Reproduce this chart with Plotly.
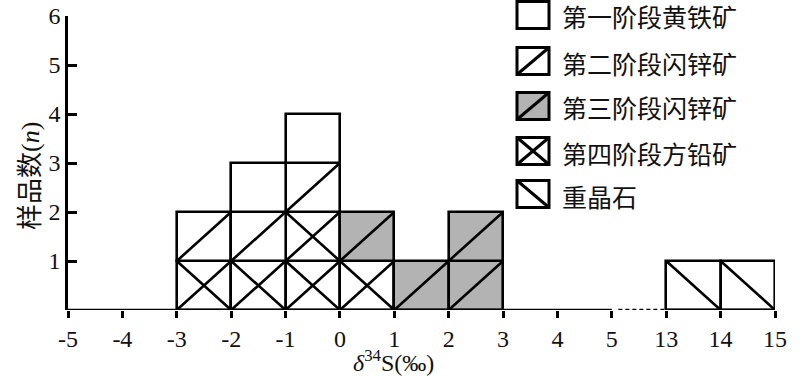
import plotly.graph_objects as go

# ---------------- data ----------------
bin_left = [-3, -2, -1, 0, 1, 2, 13, 14]          # δ34S bin left edges (‰)
stage1_pyrite = [0, 1, 1, 0, 0, 0, 0, 0]          # 第一阶段黄铁矿
stage2_sphalerite = [1, 1, 1, 0, 0, 0, 0, 0]      # 第二阶段闪锌矿
stage3_sphalerite = [0, 0, 0, 1, 1, 2, 0, 0]      # 第三阶段闪锌矿
stage4_galena = [1, 1, 2, 1, 0, 0, 0, 0]          # 第四阶段方铅矿
barite = [0, 0, 0, 0, 0, 0, 1, 1]                 # 重晶石
tick_values = [-5, -4, -3, -2, -1, 0, 1, 2, 3, 4, 5, 13, 14, 15]
y_ticks = [1, 2, 3, 4, 5, 6]
labels = ["第一阶段黄铁矿", "第二阶段闪锌矿", "第三阶段闪锌矿", "第四阶段方铅矿", "重晶石"]

# ---------------- styles ----------------
BREAK_LO, BREAK_HI = 5, 13
def pos(v):
    # broken axis: values above the break are shifted down to sit right after 5
    return v if v <= BREAK_LO else v - (BREAK_HI - BREAK_LO - 1)

GRAY = "#b3b3b3"
LW = 2.6
W, H = 800, 377
ML, MT = 68, 16
MR = W - 775
MB = H - 310
PW, PH = W - ML - MR, H - MT - MB
SERIF = "Times New Roman, Liberation Serif, serif"
CJK = "Noto Sans CJK SC, sans-serif"

# order bottom -> top, with fill and diagonal type
series = [
    (stage4_galena, "white", "x"),
    (stage3_sphalerite, GRAY, "/"),
    (stage2_sphalerite, "white", "/"),
    (stage1_pyrite, "white", ""),
    (barite, "white", "\\"),
]

fig = go.Figure()
base_level = [0] * len(bin_left)
diag_x, diag_y = [], []
for counts, fill, diag in series:
    xs, bases = [], []
    for i, c in enumerate(counts):
        for k in range(c):
            b = base_level[i] + k
            x0 = pos(bin_left[i])
            x1 = x0 + 1
            xs.append(x0 + 0.5)
            bases.append(b)
            if diag in ("/", "x"):
                diag_x += [x0, x1, None]
                diag_y += [b, b + 1, None]
            if diag in ("\\", "x"):
                diag_x += [x0, x1, None]
                diag_y += [b + 1, b, None]
        base_level[i] += c
    if xs:
        fig.add_trace(go.Bar(x=xs, y=[1] * len(xs), base=bases, width=1,
                             marker=dict(color=fill, line=dict(color="black", width=LW)),
                             showlegend=False, hoverinfo="skip"))
fig.add_trace(go.Scatter(x=diag_x, y=diag_y, mode="lines",
                         line=dict(color="black", width=LW), showlegend=False,
                         hoverinfo="skip", cliponaxis=False))

# broken x-axis baseline
xmin, xmax = pos(tick_values[0]), pos(tick_values[-1])
shapes = [
    dict(type="line", xref="x", yref="y", x0=xmin, x1=pos(BREAK_LO), y0=0, y1=0,
         line=dict(color="black", width=LW)),
    dict(type="line", xref="x", yref="y", x0=pos(BREAK_LO) + 0.12, x1=pos(BREAK_HI) - 0.04,
         y0=0, y1=0, line=dict(color="black", width=LW, dash="4px,3px")),
    dict(type="line", xref="x", yref="y", x0=pos(BREAK_HI), x1=xmax, y0=0, y1=0,
         line=dict(color="black", width=LW)),
]

# custom legend (reference pixel layout converted to paper coordinates)
def px_x(p):
    return (p - ML) / PW
def px_y(p):
    return (H - MB - p) / PH

annotations = []
leg_x0, leg_x1 = 517, 549
leg_centers = [15, 61, 106, 151, 194]
leg_h = 27
for (counts, fill, diag), lab, cy in zip([series[3], series[2], series[1], series[0], series[4]],
                                         labels, leg_centers):
    y0p, y1p = cy + leg_h / 2, cy - leg_h / 2
    shapes.append(dict(type="rect", xref="paper", yref="paper",
                       x0=px_x(leg_x0), x1=px_x(leg_x1), y0=px_y(y0p), y1=px_y(y1p),
                       fillcolor=fill, line=dict(color="black", width=3)))
    if diag in ("/", "x"):
        shapes.append(dict(type="line", xref="paper", yref="paper",
                           x0=px_x(leg_x0), x1=px_x(leg_x1), y0=px_y(y0p), y1=px_y(y1p),
                           line=dict(color="black", width=3)))
    if diag in ("\\", "x"):
        shapes.append(dict(type="line", xref="paper", yref="paper",
                           x0=px_x(leg_x0), x1=px_x(leg_x1), y0=px_y(y1p), y1=px_y(y0p),
                           line=dict(color="black", width=3)))
    annotations.append(dict(xref="paper", yref="paper", x=px_x(561), y=px_y(cy + 1.5),
                            xanchor="left", yanchor="middle", showarrow=False, borderpad=0,
                            text=lab, font=dict(family=CJK, size=25, color="#111")))

# axis titles
annotations.append(dict(xref="paper", yref="paper", x=px_x(393), y=px_y(361),
                        xanchor="center", yanchor="middle", showarrow=False,
                        text="<i>δ</i><sup>34</sup>S(‰)",
                        font=dict(family=SERIF, size=24, color="#111")))
annotations.append(dict(xref="paper", yref="paper", x=px_x(28), y=px_y(176),
                        xanchor="center", yanchor="middle", showarrow=False, textangle=-90,
                        text="<span style='font-family:Noto Sans CJK SC'>样品数</span>(<i>n</i>)",
                        font=dict(family=SERIF, size=26, color="#111")))

fig.update_layout(
    width=W, height=H,
    margin=dict(l=ML, r=MR, t=MT, b=MB, autoexpand=False),
    paper_bgcolor="white", plot_bgcolor="white",
    barmode="overlay", bargap=0, hovermode=False,
    shapes=shapes, annotations=annotations,
    xaxis=dict(range=[xmin, xmax], tickvals=[pos(v) for v in tick_values],
               ticktext=[str(v) for v in tick_values], ticks="outside", ticklen=7,
               tickwidth=LW, tickcolor="black", showline=False, showgrid=False,
               zeroline=False, automargin=False, ticklabeloverflow="allow",
               tickfont=dict(family=SERIF, size=24, color="#111")),
    yaxis=dict(range=[0, 6], tickvals=y_ticks, ticks="inside", ticklen=9,
               tickwidth=LW, tickcolor="black", showline=True, linecolor="black",
               linewidth=LW, showgrid=False, zeroline=False, automargin=False,
               ticklabeloverflow="allow",
               tickfont=dict(family=SERIF, size=24, color="#111")),
)

fig.write_html("out.html", config={"displayModeBar": False},
               post_script="document.body.style.margin='0px';")
